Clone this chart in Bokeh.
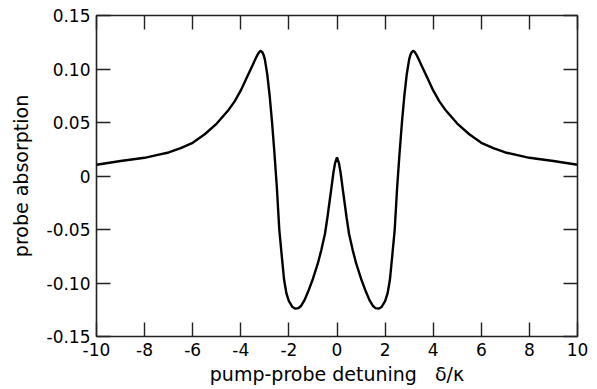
from bokeh.plotting import figure
from bokeh.models import LinearAxis, FixedTicker, CustomJSTickFormatter
from bokeh.embed import file_html
from bokeh.resources import INLINE

# detuning delta/kappa (left half, center, right half)
detuning = [-10, -9, -8, -7.5, -7, -6.5, -6, -5.5, -5, -4.5, -4.25, -4, -3.75, -3.5, -3.4, -3.3,
            -3.23, -3.17, -3.1, -3.05, -3.0, -2.9, -2.8, -2.7, -2.6, -2.5, -2.4, -2.3,
            -2.2, -2.1, -2.0, -1.85, -1.73, -1.6, -1.5, -1.35, -1.2, -1.0, -0.8, -0.65,
            -0.5, -0.4, -0.25, -0.15, -0.08, 0,
            0.08, 0.15, 0.25, 0.4, 0.5, 0.65, 0.8, 1.0, 1.2, 1.35, 1.5, 1.6, 1.73, 1.85,
            2.0, 2.1, 2.2, 2.3, 2.4, 2.5, 2.6, 2.7, 2.8, 2.9, 3.0, 3.05, 3.1, 3.17, 3.23,
            3.3, 3.4, 3.5, 3.75, 4, 4.25, 4.5, 5, 5.5, 6, 6.5, 7, 7.5, 8, 9, 10]
absorption = [0.0105, 0.014, 0.017, 0.0195, 0.022, 0.026, 0.031, 0.039, 0.049, 0.062, 0.070,
              0.080, 0.092, 0.104, 0.109, 0.1135, 0.116, 0.117, 0.1155, 0.113, 0.109, 0.095,
              0.075, 0.050, 0.021, -0.011, -0.050, -0.074, -0.097, -0.110, -0.117, -0.1225,
              -0.124, -0.1235, -0.1215, -0.116, -0.108, -0.096, -0.082, -0.069, -0.054,
              -0.039, -0.014, 0.003, 0.012, 0.0175,
              0.012, 0.003, -0.014, -0.039, -0.054, -0.069, -0.082, -0.096, -0.108, -0.116,
              -0.1215, -0.1235, -0.124, -0.1225, -0.117, -0.110, -0.097, -0.074, -0.050,
              -0.011, 0.021, 0.050, 0.075, 0.095, 0.109, 0.113, 0.1155, 0.117, 0.116,
              0.1135, 0.109, 0.104, 0.092, 0.080, 0.070, 0.062, 0.049, 0.039, 0.031, 0.026,
              0.022, 0.0195, 0.017, 0.014, 0.0105]

x_ticks = [-10, -8, -6, -4, -2, 0, 2, 4, 6, 8, 10]
x_tick_labels = ["-10", "-8", "-6", "-4", "-2", "0", "2", "4", "6", "8", "10"]
y_ticks = [-0.15, -0.10, -0.05, 0, 0.05, 0.10, 0.15]
y_tick_labels = ["-0.15", "-0.10", "-0.05", "0", "0.05", "0.10", "0.15"]

FONT = "DejaVu Sans"
INK = "#222222"

p = figure(width=597, height=389, output_backend="svg", toolbar_location=None,
           x_range=(-10, 10), y_range=(-0.15, 0.15),
           x_axis_label="pump-probe detuning\u00a0\u00a0\u00a0\u03b4/\u03ba",
           y_axis_label="probe absorption")
p.min_border_left = 96
p.min_border_right = 20
p.min_border_top = 15
p.min_border_bottom = 53
p.grid.visible = False
p.outline_line_color = INK
p.outline_line_width = 1.6
p.background_fill_color = "white"
p.border_fill_color = "white"

p.line(detuning, absorption, line_color="black", line_width=2.4)

def style_axis(ax, ticks, labels=None):
    ax.ticker = FixedTicker(ticks=ticks)
    ax.axis_line_color = None
    ax.major_tick_in = 14
    ax.major_tick_out = 0
    ax.minor_tick_line_color = None
    ax.major_tick_line_color = INK
    ax.major_tick_line_width = 1.4
    if labels is not None:
        ax.major_label_overrides = {t: l for t, l in zip(ticks, labels)}
        ax.major_label_text_font = FONT
        ax.major_label_text_font_size = "17px"
        ax.major_label_text_color = "black"
        ax.axis_label_text_font = FONT
        ax.axis_label_text_font_size = "19px"
        ax.axis_label_text_font_style = "normal"
        ax.axis_label_text_color = "black"

xa = p.xaxis[0]
ya = p.yaxis[0]
style_axis(xa, x_ticks, x_tick_labels)
style_axis(ya, y_ticks, y_tick_labels)
xa.major_label_standoff = 6
xa.axis_label_standoff = 4
ya.major_label_standoff = 6
ya.axis_label_standoff = 12

blank = CustomJSTickFormatter(code="return ''")
top = LinearAxis(formatter=blank, major_label_standoff=0, major_label_text_font_size="1px")
right = LinearAxis(formatter=blank, major_label_standoff=0, major_label_text_font_size="1px")
style_axis(top, x_ticks)
style_axis(right, y_ticks)
p.add_layout(top, "above")
p.add_layout(right, "right")

open("out.html", "w").write(file_html(p, INLINE))
